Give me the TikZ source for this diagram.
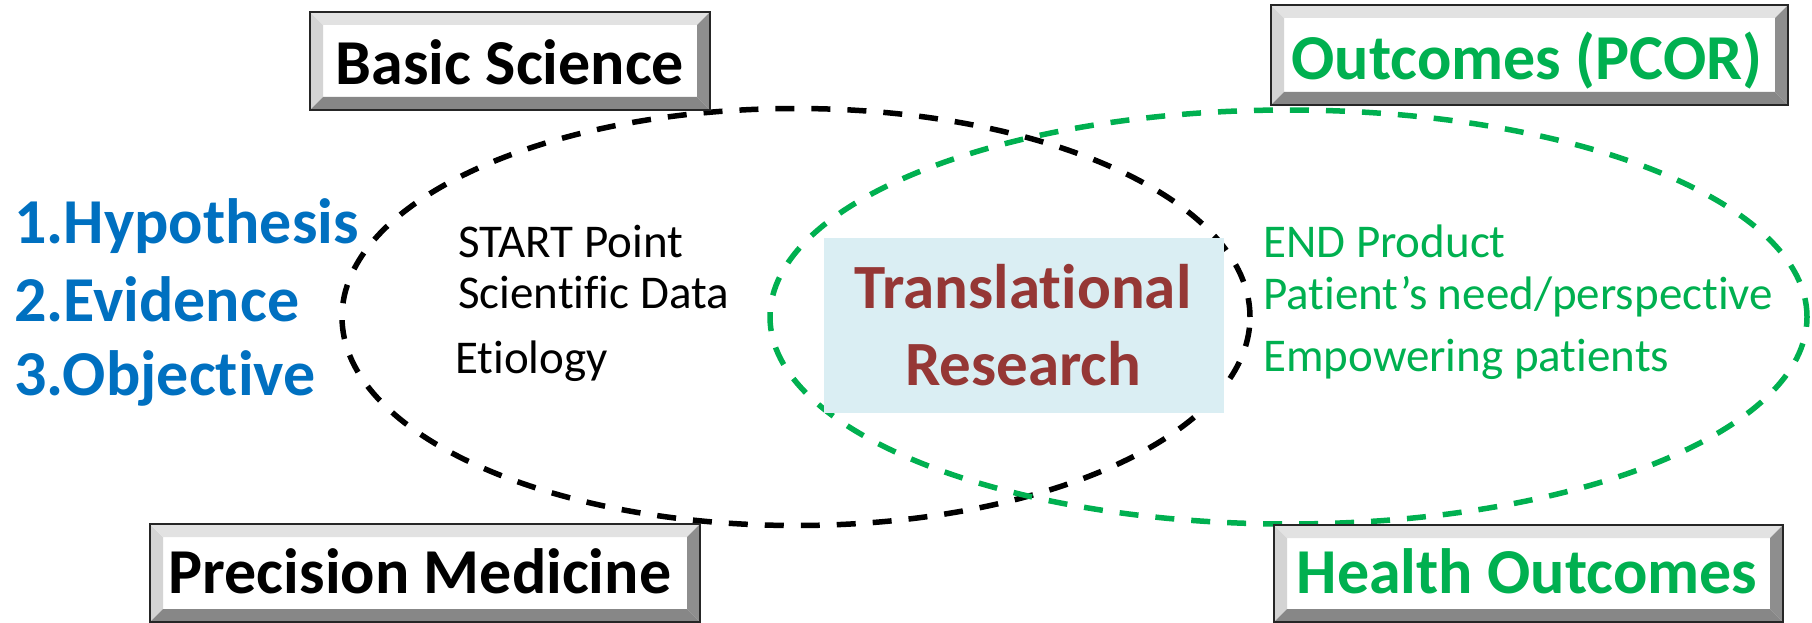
\documentclass[tikz,border=0pt]{standalone}
\usepackage{fontspec}
\setmainfont{Carlito}[Ligatures={NoCommon,NoContextual}, RawFeature={-liga;-clig;-calt;-rlig}]
\usetikzlibrary{calc}

\definecolor{pgreen}{HTML}{00B050}
\definecolor{pblue}{HTML}{0070C0}
\definecolor{pmaroon}{HTML}{953735}
\definecolor{paqua}{HTML}{DAEEF3}
\definecolor{bevleft}{HTML}{D4D4D4}
\definecolor{bevtop}{HTML}{E2E2E2}
\definecolor{bevright}{HTML}{8E8E8E}
\definecolor{bevbottom}{HTML}{878787}

\tikzset{
  loopline/.style={line width=5.5pt, dash pattern=on 19pt off 17pt},
  panel/.style={fill=white, inner sep=0pt, outer sep=0pt},
  paneltext/.style={font=\fontsize{64}{70}\selectfont\bfseries, inner sep=0pt, anchor=base},
  listtext/.style={font=\fontsize{64}{70}\selectfont\bfseries, text=pblue, inner sep=0pt, anchor=base west},
  notetext/.style={font=\fontsize{47}{52}\selectfont, inner sep=0pt, anchor=base west},
  hubtext/.style={font=\fontsize{63}{70}\selectfont\bfseries, text=pmaroon, inner sep=0pt, anchor=base},
}

% bevelled panel: name, centre x, centre y, width, height
\newcommand\bevelpanel[5]{%
  \node[panel, minimum width=#4pt, minimum height=#5pt] (#1) at (#2,#3) {};
  \fill[bevleft] (#1.north west) -- (#1.south west) -- ($(#1.south west)+(13,-13)$) -- ($(#1.north west)+(13,13)$) -- cycle;
  \fill[bevtop] (#1.north west) -- (#1.north east) -- ($(#1.north east)+(-13,13)$) -- ($(#1.north west)+(13,13)$) -- cycle;
  \fill[bevright] (#1.north east) -- (#1.south east) -- ($(#1.south east)+(-13,-13)$) -- ($(#1.north east)+(-13,13)$) -- cycle;
  \fill[bevbottom] (#1.south west) -- (#1.south east) -- ($(#1.south east)+(-13,-13)$) -- ($(#1.south west)+(13,-13)$) -- cycle;
  \draw[line width=2.5pt, black!85] (#1.north west) rectangle (#1.south east);
}

\begin{document}
\begin{tikzpicture}[x=1pt, y=-1pt]
\useasboundingbox (0,0) rectangle (1812,623);

% two overlapping dashed fields
\draw[loopline, black] (796,317) ellipse [x radius=454pt, y radius=208.5pt];
\draw[loopline, pgreen] (1288.5,317) ellipse [x radius=518.5pt, y radius=207pt];

% central label
\node[fill=paqua, inner sep=0pt, minimum width=400pt, minimum height=175pt] (hub) at (1024,325.5) {};
\node[hubtext] (hub1) at (1023,308) {Translational};
\node[hubtext] (hub2) at (1023,385) {Research};

% corner panels
\bevelpanel{basic}{510}{61}{400}{98}
\node[paneltext] (basict) at (510,85) {Basic Science};
\bevelpanel{outc}{1529.5}{55}{517}{100}
\node[paneltext, text=pgreen] (outct) at (1527,80) {Outcomes (PCOR)};
\bevelpanel{prec}{425}{573}{550}{98}
\node[paneltext] (prect) at (420,593) {Precision Medicine};
\bevelpanel{health}{1528.5}{573.5}{509}{97}
\node[paneltext, text=pgreen] (healtht) at (1527,593) {Health Outcomes};

% numbered list on the left
\node[listtext] (l1) at (14,243) {1.Hypothesis};
\node[listtext] (l2) at (14,321) {2.Evidence};
\node[listtext] (l3) at (14,395) {3.Objective};

% notes inside the black field
\node[notetext] (n1) at (458,257) {START Point};
\node[notetext] (n2) at (458,308) {Scientific Data};
\node[notetext] (n3) at (455,373) {Etiology};

% notes inside the green field
\node[notetext, text=pgreen] (g1) at (1263,257) {END Product};
\node[notetext, text=pgreen] (g2) at (1263,309) {Patient’s need/perspective};
\node[notetext, text=pgreen] (g3) at (1263,371) {Empowering patients};
\end{tikzpicture}
\end{document}
